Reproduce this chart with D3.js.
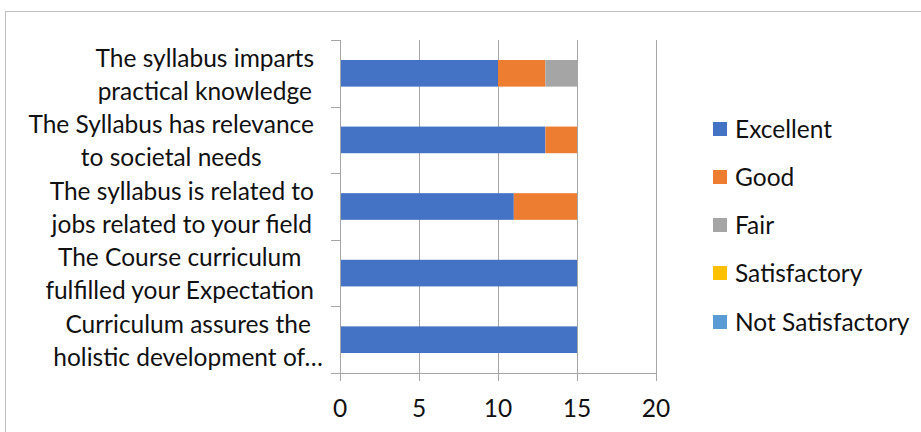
<!DOCTYPE html>
<html>
<head>
<meta charset="utf-8">
<script src="https://cdn.jsdelivr.net/npm/d3@7"></script>
<style>
  html, body { margin: 0; padding: 0; background: #fff; }
  svg { display: block; }
  text { font-family: Lato, "Noto Sans", sans-serif; fill: #111; }
</style>
</head>
<body>
<svg id="chart" width="921" height="432"></svg>
<script>
const categories = [
  "The syllabus imparts practical knowledge",
  "The Syllabus has relevance to societal needs",
  "The syllabus is related to jobs related to your field",
  "The Course curriculum fulfilled your Expectation",
  "Curriculum assures the holistic development of…"
];
const categoryLines = [
  ["The syllabus imparts", "practical knowledge"],
  ["The Syllabus has relevance", "to societal needs"],
  ["The syllabus is related to", "jobs related to your field"],
  ["The Course curriculum", "fulfilled your Expectation"],
  ["Curriculum assures the", "holistic development of…"]
];
const seriesNames = ["Excellent", "Good", "Fair", "Satisfactory", "Not Satisfactory"];
const excellent = [10, 13, 11, 15, 15];
const good = [3, 2, 4, 0, 0];
const fair = [2, 0, 0, 0, 0];
const satisfactory = [0, 0, 0, 0, 0];
const notSatisfactory = [0, 0, 0, 0, 0];
const xTicks = [0, 5, 10, 15, 20];
const colors = ["#4472C4", "#ED7D31", "#A5A5A5", "#FFC000", "#5B9BD5"];

const seriesValues = [excellent, good, fair, satisfactory, notSatisfactory];
const rows = categories.map((c, i) => {
  const r = { category: c };
  seriesNames.forEach((s, j) => r[s] = seriesValues[j][i]);
  return r;
});

const svg = d3.select("#chart");
const gridColor = "#a6a6a6";
const fontSize = 24.5;

// frame
svg.append("rect").attr("x", 5.5).attr("y", 11.5).attr("width", 1000).attr("height", 1000)
  .attr("fill", "none").attr("stroke", "#bfbfbf").attr("stroke-width", 1);

const x = d3.scaleLinear().domain([0, 20]).range([340, 656]);
const y = d3.scaleBand().domain(categories).range([40, 373]).paddingInner(0.6).paddingOuter(0.3);

// gridlines (extend to tick marks)
svg.append("g").selectAll("line").data(xTicks.slice(1)).join("line")
  .attr("x1", d => Math.round(x(d)) + 0.5).attr("x2", d => Math.round(x(d)) + 0.5)
  .attr("y1", 40).attr("y2", 381)
  .attr("stroke", gridColor).attr("stroke-width", 1);

// bars
const stack = d3.stack().keys(seriesNames);
const stacked = stack(rows);
svg.append("g").selectAll("g").data(stacked).join("g")
  .attr("fill", (d, i) => colors[i])
  .selectAll("rect").data(d => d).join("rect")
  .attr("x", d => x(d[0]))
  .attr("width", d => x(d[1]) - x(d[0]))
  .attr("y", d => y(d.data.category))
  .attr("height", y.bandwidth());

// y axis line + ticks at category boundaries
const ax = svg.append("g");
ax.append("line").attr("x1", 340.5).attr("x2", 340.5).attr("y1", 40).attr("y2", 381)
  .attr("stroke", gridColor);
const boundaries = d3.range(categories.length + 1).map(i => 40 + i * (373 - 40) / categories.length);
ax.selectAll("line.yt").data(boundaries).join("line").attr("class", "yt")
  .attr("x1", 331).attr("x2", 340)
  .attr("y1", d => Math.round(d) + 0.5).attr("y2", d => Math.round(d) + 0.5)
  .attr("stroke", gridColor);
// x axis line
ax.append("line").attr("x1", 340).attr("x2", 657).attr("y1", 373.5).attr("y2", 373.5)
  .attr("stroke", gridColor);

// x tick labels
svg.append("g").selectAll("text").data(xTicks).join("text")
  .attr("x", d => x(d)).attr("y", 408).attr("dy", "0.36em")
  .attr("text-anchor", "middle").attr("font-size", 24.5)
  .text(d => d);

// category labels (centered block, right aligned to axis area)
const labelRight = 314;
const lg = svg.append("g");
categories.forEach((c, i) => {
  const lines = categoryLines[i];
  const cy = y(c) + y.bandwidth() / 2 + 1;
  const g = lg.append("g");
  const texts = lines.map((ln, k) => g.append("text")
    .attr("y", cy + (k - (lines.length - 1) / 2) * 33)
    .attr("dy", "0.36em")
    .attr("text-anchor", "middle")
    .attr("font-size", fontSize)
    .text(ln));
  const widths = lines.map(ln => {
    const tmp = g.append("text").attr("font-size", fontSize).text(ln.replace("…", ""));
    const w = tmp.node().getComputedTextLength();
    tmp.remove();
    return w;
  });
  const maxW = d3.max(widths);
  const cx = labelRight - maxW / 2;
  texts.forEach(t => t.attr("x", cx));
});

// legend
const legendY = [129, 177, 225, 273, 322];
const leg = svg.append("g");
seriesNames.forEach((s, i) => {
  leg.append("rect").attr("x", 713).attr("y", legendY[i] - 7).attr("width", 14).attr("height", 14)
    .attr("fill", colors[i]);
  leg.append("text").attr("x", 735).attr("y", legendY[i]).attr("dy", "0.36em")
    .attr("font-size", fontSize).text(s);
});
</script>
</body>
</html>
